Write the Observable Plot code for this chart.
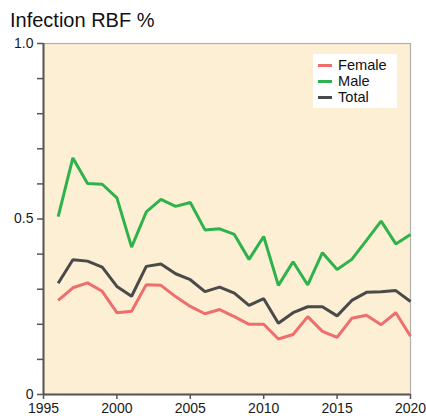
<!DOCTYPE html>
<html>
<head>
<meta charset="utf-8">
<script src="https://cdn.jsdelivr.net/npm/d3@7"></script>
<script src="https://cdn.jsdelivr.net/npm/@observablehq/plot@0.6"></script>
<style>
  html, body { margin: 0; padding: 0; background: #fff; }
  #wrap { position: relative; width: 426px; height: 416px; font-family: "Liberation Sans", Arial, sans-serif; }
  #title { position: absolute; left: 10px; top: 9px; font-size: 20px; line-height: 23px; color: #111; white-space: nowrap; }
  #legend { position: absolute; left: 313px; top: 54px; width: 84px; height: 54px; background: #fff; font-size: 14.6px; color: #111; }
  #legend .row { position: absolute; left: 5px; height: 16px; line-height: 16px; white-space: nowrap; }
  #legend .sw { display: inline-block; width: 14px; height: 3px; vertical-align: middle; margin-right: 6px; position: relative; top: -1px; }
  svg { position: absolute; left: 0; top: 0; }
</style>
</head>
<body>
<div id="wrap">
  <div id="title">Infection RBF %</div>
  <div id="chart"></div>
  <div id="legend"></div>
</div>
<script>
const years = [1996,1997,1998,1999,2000,2001,2002,2003,2004,2005,2006,2007,2008,2009,2010,2011,2012,2013,2014,2015,2016,2017,2018,2019,2020];
const female = [0.268,0.304,0.318,0.294,0.233,0.237,0.313,0.311,0.279,0.251,0.230,0.242,0.222,0.200,0.200,0.158,0.171,0.222,0.180,0.163,0.217,0.226,0.199,0.233,0.166];
const male   = [0.507,0.674,0.601,0.599,0.560,0.420,0.520,0.556,0.536,0.547,0.469,0.472,0.456,0.385,0.450,0.311,0.378,0.312,0.404,0.356,0.385,0.439,0.494,0.429,0.456];
const total  = [0.317,0.384,0.380,0.363,0.308,0.280,0.365,0.372,0.344,0.327,0.293,0.306,0.289,0.254,0.273,0.203,0.233,0.250,0.250,0.224,0.268,0.291,0.293,0.296,0.265];
const seriesNames = ["Female","Male","Total"];
const seriesColors = ["#ee6e6e","#2eb24c","#4a4a4a"];
const xTicks = [1995,2000,2005,2010,2015,2020];
const yTicks = [0,0.1,0.2,0.3,0.4,0.5,0.6,0.7,0.8,0.9,1.0];
const yTickLabels = {0:"0", 0.5:"0.5", 1:"1.0"};

const seriesValues = [female, male, total];
const data = [];
seriesNames.forEach((s, i) => years.forEach((y, j) => data.push({series: s, year: y, value: seriesValues[i][j]})));

const chart = Plot.plot({
  width: 426,
  height: 416,
  marginLeft: 43,
  marginRight: 16,
  marginTop: 43,
  marginBottom: 22,
  style: {fontFamily: "'Liberation Sans', Arial, sans-serif", fontSize: "14px", color: "#1a1a1a", background: "transparent"},
  x: {domain: [1995, 2020], label: null},
  y: {domain: [0, 1], label: null},
  color: {domain: seriesNames, range: seriesColors},
  marks: [
    Plot.frame({fill: "#fdefd3", stroke: "#b0b0b0", strokeWidth: 1.2}),
    Plot.axisX({ticks: xTicks, tickFormat: "d", tickSize: 5, tickPadding: 4, stroke: "#555", strokeWidth: 1.5, fontSize: 14, label: null}),
    Plot.axisY({ticks: yTicks, tickFormat: d => yTickLabels[Math.round(d*10)/10] ?? "", tickSize: 6, tickPadding: 4, stroke: "#555", strokeWidth: 1.5, fontSize: 14, label: null}),
    Plot.ruleX([1995], {stroke: "#555", strokeWidth: 2}),
    Plot.ruleY([0], {stroke: "#555", strokeWidth: 2}),
    Plot.line(data, {x: "year", y: "value", z: "series", stroke: "series", strokeWidth: 3, strokeLinejoin: "miter", strokeLinecap: "butt"})
  ]
});
document.getElementById("chart").appendChild(chart);

const legend = document.getElementById("legend");
seriesNames.forEach((s, i) => {
  const row = document.createElement("div");
  row.className = "row";
  row.style.top = (3 + i * 16) + "px";
  row.innerHTML = `<span class="sw" style="background:${seriesColors[i]}"></span>${s}`;
  legend.appendChild(row);
});
</script>
</body>
</html>
